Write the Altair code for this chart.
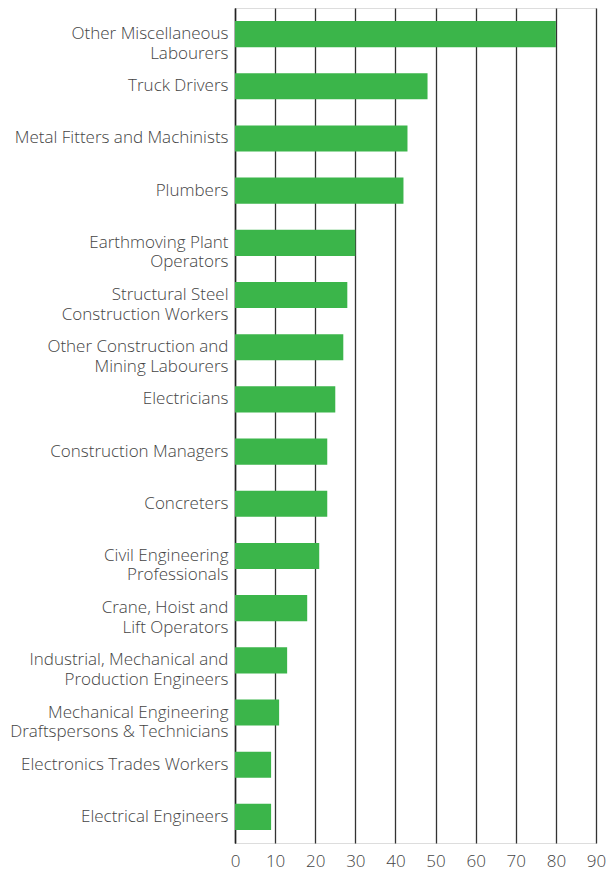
import altair as alt
import pandas as pd

occupations = [
    "Other Miscellaneous|Labourers",
    "Truck Drivers",
    "Metal Fitters and Machinists",
    "Plumbers",
    "Earthmoving Plant|Operators",
    "Structural Steel|Construction Workers",
    "Other Construction and|Mining Labourers",
    "Electricians",
    "Construction Managers",
    "Concreters",
    "Civil Engineering|Professionals",
    "Crane, Hoist and|Lift Operators",
    "Industrial, Mechanical and|Production Engineers",
    "Mechanical Engineering|Draftspersons & Technicians",
    "Electronics Trades Workers",
    "Electrical Engineers",
]
values = [80, 48, 43, 42, 30, 28, 27, 25, 23, 23, 21, 18, 13, 11, 9, 9]
x_ticks = [0, 10, 20, 30, 40, 50, 60, 70, 80, 90]

df = pd.DataFrame({"occupation": occupations, "value": values})

FONT = "Open Sans"

chart = (
    alt.Chart(df)
    .mark_bar(color="#3bb54a")
    .encode(
        x=alt.X(
            "value:Q",
            scale=alt.Scale(domain=[0, 90], nice=False),
            axis=alt.Axis(
                values=x_ticks,
                title=None,
                orient="bottom",
                grid=True,
                gridColor="#333333",
                gridWidth=1.3,
                gridOpacity=1,
                domain=False,
                ticks=False,
                labelFont=FONT,
                labelFontSize=17,
                labelFontWeight=300,
                labelColor="#444444",
                labelPadding=10,
                labelFlush=False,
            ),
        ),
        y=alt.Y(
            "occupation:N",
            sort=occupations,
            scale=alt.Scale(paddingInner=0.5, paddingOuter=0.25),
            axis=alt.Axis(
                title=None,
                domain=True,
                domainColor="#222222",
                domainWidth=1.5,
                ticks=False,
                grid=False,
                labelExpr="split(datum.label, '|')",
                labelFont=FONT,
                labelFontSize=17,
                labelFontWeight=300,
                labelColor="#444444",
                labelLineHeight=19.5,
                labelPadding=7,
                labelLimit=300,
                minExtent=227,
                maxExtent=227,
            ),
        ),
    )
    .properties(width=361, height=835)
    .configure_view(stroke=None)
    .configure(padding=0, background="white")
)

chart.save("out.html", embed_options={"renderer": "svg", "actions": False})
